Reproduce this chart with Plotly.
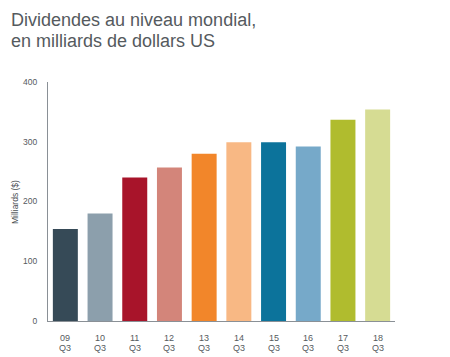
import plotly.graph_objects as go

years = ["09", "10", "11", "12", "13", "14", "15", "16", "17", "18"]
quarter = "Q3"
values = [154, 180, 240, 257, 280, 299, 299, 292, 337, 354]
colors = ["#364a57", "#8c9fac", "#a8142a", "#d3857a", "#f2862a",
          "#f8b884", "#0c739b", "#76a9c9", "#b0bc2e", "#d6dc93"]
y_ticks = [0, 100, 200, 300, 400]
title_lines = ["Dividendes au niveau mondial,", "en milliards de dollars US"]
y_title = "Milliards ($)"

categories = [f"{y} {quarter}" for y in years]

# The page body has an 8px margin; the figure is sized to fit the window.
OFF = 8
W, H = 450 - OFF, 357 - OFF
ml, mr, mt, mb = 48 - OFF, 55, 82 - OFF, 36
pw, ph = W - ml - mr, H - mt - mb

def px_to_paper(x, y):
    return (x - OFF - ml) / pw, (H - mb - (y - OFF)) / ph

FONT = "Liberation Sans, Arial, sans-serif"
GREY = "#555a5e"

fig = go.Figure(go.Bar(
    x=categories, y=values, marker=dict(color=colors, line=dict(width=0)),
    hoverinfo="skip",
))

annotations = []
for line, base_y in zip(title_lines, [27.5, 48]):
    px, py = px_to_paper(9, base_y)
    annotations.append(dict(
        text=line, xref="paper", yref="paper", x=px, y=py,
        xanchor="left", yanchor="bottom", showarrow=False,
        font=dict(family=FONT, size=18, color=GREY), yshift=-5,
    ))
px, py = px_to_paper(15, 202)
annotations.append(dict(
    text=y_title, xref="paper", yref="paper", x=px, y=py, textangle=-90,
    xanchor="center", yanchor="middle", showarrow=False,
    font=dict(family=FONT, size=8.5, color="#4a4f53"),
))
for cat, yr in zip(categories, years):
    for txt, shift in ((yr, -17), (quarter, -26.5)):
        annotations.append(dict(
            text=txt, xref="x", yref="paper", x=cat, y=0,
            xanchor="center", yanchor="middle", yshift=shift, showarrow=False,
            font=dict(family=FONT, size=9, color=GREY),
        ))

fig.update_layout(
    width=W, height=H, autosize=False,
    margin=dict(l=ml, r=mr, t=mt, b=mb, pad=0),
    paper_bgcolor="white", plot_bgcolor="white",
    bargap=0.28, showlegend=False,
    font=dict(family=FONT, size=9, color=GREY),
    annotations=annotations,
    xaxis=dict(
        showline=True, linecolor="#8a9096", linewidth=1,
        showgrid=False, ticks="", showticklabels=False, fixedrange=True,
    ),
    yaxis=dict(
        range=[0, 400], tickvals=y_ticks, ticktext=[str(v) for v in y_ticks],
        showline=True, linecolor="#8a9096", linewidth=1,
        showgrid=False, zeroline=False, ticks="", ticklabelstandoff=8,
        tickfont=dict(family=FONT, size=8.5, color=GREY), fixedrange=True,
    ),
)

fig.write_html("out.html", config=dict(displayModeBar=False))
